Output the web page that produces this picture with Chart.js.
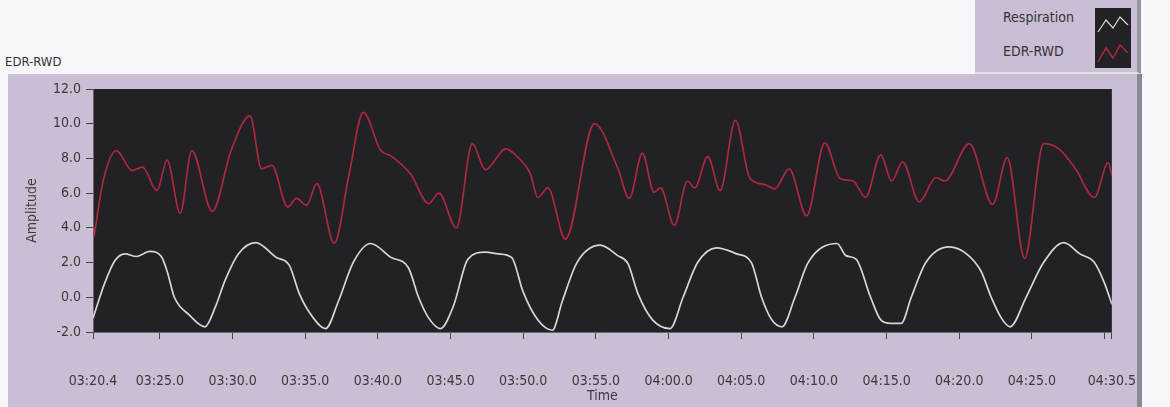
<!DOCTYPE html>
<html>
<head>
<meta charset="utf-8">
<script src="https://cdn.jsdelivr.net/npm/chart.js@4/dist/chart.umd.min.js"></script>
<style>
  html, body { margin: 0; padding: 0; background: #f7f6f8; }
  #wrap { position: relative; width: 1170px; height: 407px; overflow: hidden; }
  #panel { position: absolute; left: 8px; top: 74px; width: 1129px; height: 340px; background: #c9bed4; }
  #shadow { position: absolute; left: 1137px; top: 74px; width: 5px; height: 340px; background: #8d8795; }
  #legend { position: absolute; left: 975px; top: -2px; width: 162px; height: 74px; background: #c9bed4;
            border-right: 4px solid #9a94a2; border-bottom: 2px solid #e4e0e8; }
  .lg { position: absolute; left: 28px; font: 14px "DejaVu Sans Condensed", "DejaVu Sans", sans-serif; color: #333; }
  #sw { position: absolute; left: 120px; top: 10px; width: 36px; height: 60px; background: #222126; }
  #topLabel { position: absolute; left: 5px; top: 54px; font: 13px "DejaVu Sans Condensed", "DejaVu Sans", sans-serif; color: #333; }
  canvas { position: absolute; left: 0; top: 0; }
</style>
</head>
<body>
<div id="wrap">
  <div id="panel"></div>
  <div id="shadow"></div>
  <div id="legend">
    <div class="lg" style="top:11px">Respiration</div>
    <div class="lg" style="top:45px">EDR-RWD</div>
    <svg id="sw" viewBox="0 0 36 60">
      <polyline points="3,24 11,12 18,20 25,9 33,17" fill="none" stroke="#d8d8d8" stroke-width="1.2"/>
      <polyline points="3,54 11,40 18,50 25,37 33,45" fill="none" stroke="#b0283c" stroke-width="1.5"/>
    </svg>
  </div>
  <div id="topLabel">EDR-RWD</div>
  <canvas id="chart" width="1170" height="407"></canvas>
</div>
<script>
// time in seconds (200.4 = 03:20.4)
const respTime = [200.4, 201.2, 201.9, 202.6, 203.4, 204.3, 205.1, 205.5, 206.0, 207.0, 208.1, 208.8, 209.5, 210.4, 211.6,
  213.0, 213.9, 214.6, 215.4, 216.4, 217.3, 218.3, 219.5, 220.9, 222.1, 222.8, 223.5, 224.3, 225.2, 226.2,
  227.4, 228.3, 229.2, 230.0, 231.0, 232.0, 232.7, 233.7, 235.3, 236.5, 237.2, 237.9, 238.9, 240.1, 241.0,
  242.0, 243.3, 244.7, 245.7, 246.4, 247.1, 247.8, 248.7, 249.6, 251.6, 252.2, 252.9, 253.9, 254.6, 255.3,
  256.0, 256.7, 257.7, 259.3, 260.5, 261.5, 262.2, 262.9, 263.5, 264.6, 265.8, 267.2, 268.3, 269.3, 270.0, 270.5];
const respAmp = [-1.2, 0.8, 2.1, 2.5, 2.35, 2.65, 2.35, 1.5, 0.0, -1.0, -1.7, -0.6, 1.0, 2.5, 3.15,
  2.3, 1.85, 0.2, -1.0, -1.8, -0.2, 2.0, 3.1, 2.3, 1.7, 0.0, -1.2, -1.8, -0.5, 2.2,
  2.6, 2.5, 2.3, 0.3, -1.3, -1.9, -0.2, 2.0, 3.0, 2.4, 1.95, 0.2, -1.3, -1.8, 0.0,
  2.0, 2.85, 2.5, 2.0, 0.0, -1.3, -1.7, 0.0, 2.0, 3.1, 2.4, 2.2, 0.0, -1.3, -1.5,
  -1.5, 0.0, 2.0, 2.9, 2.5, 1.5, 0.0, -1.2, -1.7, 0.0, 2.0, 3.15, 2.5, 2.0, 0.8, -0.4];

const edrTime = [200.47, 201.1, 202.0, 203.1, 203.8, 204.8, 205.5, 206.4, 207.2, 208.6, 209.9, 211.2, 212.0, 212.7,
  213.8, 214.4, 215.1, 215.8, 217.0, 218.0, 219.0, 220.2, 220.9, 222.25, 223.5, 224.2, 225.4, 226.5, 227.4,
  228.8, 229.65, 230.5, 231.0, 231.7, 232.9, 234.9, 236.5, 237.3, 238.2, 239.0, 239.45, 240.4, 241.3, 241.8,
  242.7, 243.55, 244.6, 245.6, 246.6, 247.3, 248.3, 249.5, 250.75, 251.8, 252.7, 253.55, 254.6, 255.35,
  256.1, 257.25, 258.4, 259.0, 260.7, 262.3, 263.3, 264.5, 265.8, 266.85, 268.0, 269.3, 270.25, 270.5];
const edrAmp = [3.5, 6.7, 8.45, 7.3, 7.5, 6.15, 7.9, 4.85, 8.45, 4.95, 8.45, 10.45, 7.4, 7.6,
  5.2, 5.7, 5.3, 6.55, 3.1, 7.0, 10.65, 8.45, 8.15, 7.1, 5.4, 6.0, 4.0, 8.85, 7.35,
  8.55, 8.05, 7.1, 5.75, 6.3, 3.35, 10.0, 7.45, 5.7, 8.3, 6.05, 6.3, 4.15, 6.7, 6.3,
  8.1, 6.15, 10.2, 6.85, 6.5, 6.25, 7.4, 4.7, 8.9, 6.85, 6.7, 5.75, 8.2, 6.7,
  7.8, 5.5, 6.9, 6.7, 8.85, 5.35, 8.05, 2.25, 8.85, 8.55, 7.4, 5.75, 7.75, 7.0];

const xTickValues = [200.4, 205, 210, 215, 220, 225, 230, 235, 240, 245, 250, 255, 260, 265, 270, 270.5];
const xTickLabels = ["03:20.4", "03:25.0", "03:30.0", "03:35.0", "03:40.0", "03:45.0", "03:50.0", "03:55.0",
  "04:00.0", "04:05.0", "04:10.0", "04:15.0", "04:20.0", "04:25.0", "", "04:30.5"];
const yTickLabels = ["-2.0", "0.0", "2.0", "4.0", "6.0", "8.0", "10.0", "12.0"];

const tickFont = { family: "'DejaVu Sans Condensed', 'DejaVu Sans', sans-serif", size: 14 };
const titleFont = { family: "'DejaVu Sans Condensed', 'DejaVu Sans', sans-serif", size: 14 };

const plotBg = {
  id: "plotBg",
  beforeDraw(chart) {
    const a = chart.chartArea;
    const ctx = chart.ctx;
    ctx.save();
    ctx.fillStyle = "#222126";
    ctx.fillRect(a.left, a.top, a.right - a.left, a.bottom - a.top);
    ctx.restore();
  }
};

new Chart(
  document.getElementById("chart"),
  {
    type: "line",
    data: {
      datasets: [
        {
          label: "Respiration",
          data: respTime.map((t, i) => ({ x: t, y: respAmp[i] })),
          borderColor: "#d6d6d6",
          borderWidth: 1.7
        },
        {
          label: "EDR-RWD",
          data: edrTime.map((t, i) => ({ x: t, y: edrAmp[i] })),
          borderColor: "#ad283c",
          borderWidth: 1.7
        }
      ]
    },
    options: {
      responsive: false,
      animation: false,
      layout: { padding: { left: 20, top: 89, right: 53, bottom: 0 } },
      elements: {
        point: { radius: 0 },
        line: { cubicInterpolationMode: "monotone" }
      },
      plugins: {
        legend: { display: false },
        tooltip: { enabled: false }
      },
      scales: {
        x: {
          type: "linear",
          min: 200.4,
          max: 270.5,
          afterBuildTicks(scale) {
            scale.ticks = xTickValues.map(v => ({ value: v }));
          },
          afterFit(scale) { scale.height = 75; },
          ticks: {
            autoSkip: false,
            maxRotation: 0,
            padding: 34,
            color: "#3a3a3a",
            font: tickFont,
            callback: (v, i) => xTickLabels[i]
          },
          grid: { drawOnChartArea: false, tickLength: 7, color: "#444" },
          border: { color: "#6a6670" },
          title: {
            display: true,
            text: "Time",
            color: "#3a3a3a",
            font: titleFont,
            padding: { top: 0, bottom: 2 }
          }
        },
        y: {
          min: -2,
          max: 12,
          afterBuildTicks(scale) {
            scale.ticks = yTickLabels.map(s => ({ value: parseFloat(s) }));
          },
          afterFit(scale) { scale.width = 73; },
          ticks: {
            padding: 5,
            color: "#3a3a3a",
            font: tickFont,
            callback: (v, i) => yTickLabels[i]
          },
          grid: { drawOnChartArea: false, tickLength: 7, color: "#444" },
          border: { color: "#6a6670" },
          title: {
            display: true,
            text: "Amplitude",
            color: "#3a3a3a",
            font: titleFont,
            padding: { top: 4, bottom: 0 }
          }
        }
      }
    },
    plugins: [plotBg]
  }
);
</script>
</body>
</html>
